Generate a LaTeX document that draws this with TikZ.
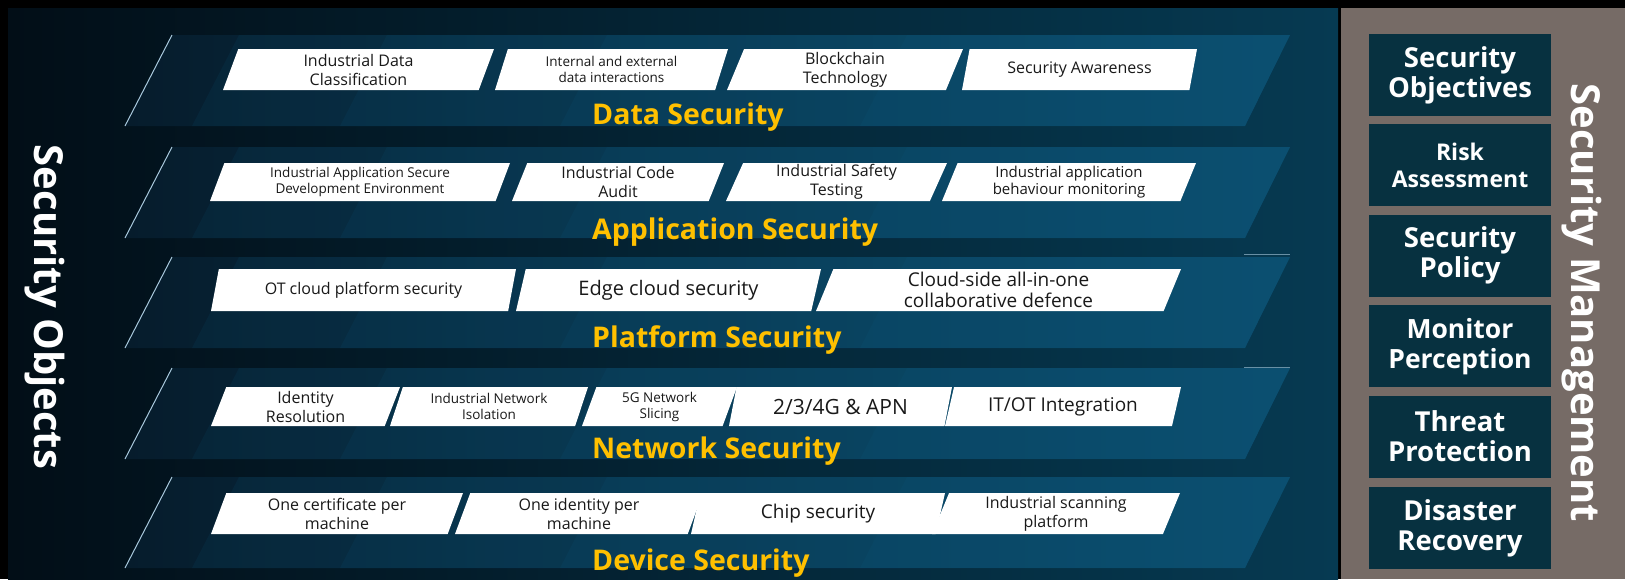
\documentclass[tikz,border=0pt]{standalone}
\usepackage{fontspec}
\setmainfont{Open Sans}
\usetikzlibrary{positioning, shapes.geometric}

\definecolor{panelleft}{HTML}{020E17}
\definecolor{panelright}{HTML}{063A52}
\definecolor{bandleft}{HTML}{061C2C}
\definecolor{bandmid}{HTML}{0A3A56}
\definecolor{bandright}{HTML}{0B4A68}
\definecolor{bandstep}{HTML}{0E5C82}
\definecolor{edgeline}{HTML}{A9C9DD}
\definecolor{gold}{HTML}{FFC000}
\definecolor{mgmtgrey}{HTML}{766B66}
\definecolor{mgmtbox}{HTML}{073140}

\begin{document}
\begin{tikzpicture}
% style
	[x=1pt, y=-1pt,
	tile/.style={trapezium, trapezium left angle=64, trapezium right angle=116, trapezium stretches body, fill=white, inner sep=0pt, minimum height=41pt, align=center, text=black!90, font=\fontsize{16}{19}\selectfont},
	tinytext/.style={font=\fontsize{13.5}{16}\selectfont},
	bigtext/.style={font=\fontsize{20}{22}\selectfont},
	layertitle/.style={anchor=west, inner sep=0pt, text=gold, font=\bfseries\fontsize{28.5}{30}\selectfont},
	sidetitle/.style={rotate=-90, inner sep=0pt, text=white, font=\bfseries\fontsize{40}{44}\selectfont},
	mgmt/.style={fill=mgmtbox, minimum width=182pt, minimum height=82pt, inner sep=0pt, align=center, text=white, font=\bfseries\fontsize{27.5}{30}\selectfont}]

	\useasboundingbox (0,0) rectangle (1625,579);
	\fill[black] (0,0) rectangle (1625,579);
	% panels
	\shade[left color=panelleft, right color=panelright] (8,8) rectangle (1338,579);
	\fill[mgmtgrey] (1341,8) rectangle (1625,579);

	% layer bands, with lighter slanted steps inside
	\foreach \t in {35,147,257,368,477}{
		\shade[left color=bandleft, middle color=bandmid, right color=bandright]
			(172,\t) -- (1290,\t) -- (1245,\t+91) -- (125,\t+91) -- cycle;
		\foreach \s in {192,340,560,860}
			\fill[bandstep, opacity=0.12] (\s+47,\t) -- (1290,\t) -- (1245,\t+91) -- (\s,\t+91) -- cycle;
		\draw[edgeline, line width=1pt] (172,\t) -- (125,\t+91);
	}
	\draw[edgeline!60!panelright, line width=1pt] (1244,254) -- (1290,254) (1244,367) -- (1290,367);

	% data
	\node[tile, minimum width=271pt] (classif) at (358.5,69.5) {Industrial Data\\Classification};
	\node[tile, tinytext, minimum width=233pt] (interact) at (611.5,69.5) {Internal and external\\data interactions};
	\node[tile, minimum width=236pt] (chain) at (845,69.5) {Blockchain\\Technology};
	\node[tile, minimum width=235pt] (aware) at (1079.5,69.5) {Security Awareness};
	\node[layertitle] (datasec) at (592,117) {Data Security};

	% application
	\node[tile, tinytext, minimum width=300pt, minimum height=38pt] (devenv) at (360,182) {Industrial Application Secure\\Development Environment};
	\node[tile, minimum width=212pt, minimum height=38pt] (audit) at (618,182) {Industrial Code\\Audit};
	\node[tile, minimum width=221pt, minimum height=38pt] (testing) at (836.5,182) {Industrial Safety\\Testing};
	\node[tile, font=\fontsize{15}{17}\selectfont, minimum width=254pt, minimum height=38pt] (behaviour) at (1069,182) {Industrial application\\behaviour monitoring};
	\node[layertitle] (appsec) at (592,232) {Application Security};

	% platform
	\node[tile, minimum width=305pt, minimum height=42pt] (otcloud) at (363.5,290) {OT cloud platform security};
	\node[tile, bigtext, minimum width=305pt, minimum height=42pt] (edge) at (668.5,290) {Edge cloud security};
	\node[tile, font=\fontsize{19}{21}\selectfont, minimum width=365pt, minimum height=42pt] (collab) at (998.5,290) {Cloud-side all-in-one\\collaborative defence};
	\node[layertitle] (platsec) at (592,340) {Platform Security};

	% network
	\node[tile, minimum width=189pt, minimum height=39pt] (ident) at (305.5,406.5) {Identity\\Resolution};
	\node[tile, tinytext, minimum width=198pt, minimum height=39pt] (isolation) at (489,406.5) {Industrial Network\\Isolation};
	\node[tile, tinytext, minimum width=155pt, minimum height=39pt] (slicing) at (659.5,406.5) {5G Network\\Slicing};
	\node[tile, font=\fontsize{21}{23}\selectfont, minimum width=223pt, minimum height=39pt] (apn) at (840.5,406.5) {2/3/4G \& APN};
	\node[tile, font=\fontsize{19}{21}\selectfont, minimum width=236pt, minimum height=39pt] (itot) at (1063,406.5) {IT/OT Integration};
	\node[layertitle] (netsec) at (592,451) {Network Security};

	% device
	\node[tile, minimum width=252pt] (cert) at (337,513.5) {One certificate per\\machine};
	\node[tile, minimum width=248pt] (onceid) at (579,513.5) {One identity per\\machine};
	\node[tile, font=\fontsize{19}{21}\selectfont, minimum width=254pt] (chip) at (818,513.5) {Chip security};
	\node[tile, minimum width=248pt] (scan) at (1056,513.5) {Industrial scanning\\platform};
	\node[layertitle] (devsec) at (592,563) {Device Security};

	% side titles
	\node[sidetitle] (objects) at (45,307) {Security Objects};
	\node[sidetitle] (management) at (1582,303) {Security Management};

	% management column
	\node[mgmt] (objectives) at (1460,75) {Security\\Objectives};
	\node[mgmt, below=8pt of objectives, font=\bfseries\fontsize{23}{27}\selectfont] (risk) {Risk\\Assessment};
	\node[mgmt, below=8pt of risk] (policy) {Security\\Policy};
	\node[mgmt, below=8pt of policy, font=\bfseries\fontsize{26.5}{30}\selectfont] (monitor) {Monitor\\Perception};
	\node[mgmt, below=8pt of monitor] (threat) {Threat\\Protection};
	\node[mgmt, below=9pt of threat] (disaster) {Disaster\\Recovery};
\end{tikzpicture}
\end{document}
